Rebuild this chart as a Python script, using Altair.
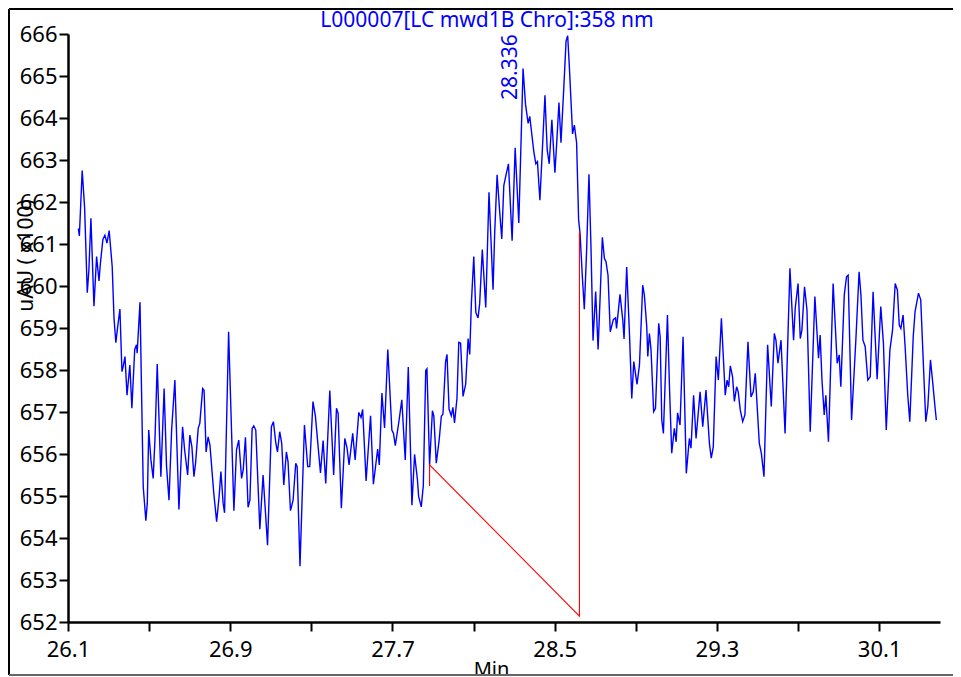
import altair as alt
import pandas as pd

# ---- data ----
times = [
    26.151, 26.156, 26.170, 26.182, 26.195, 26.203, 26.213, 26.228, 26.241, 26.253,
    26.259, 26.272, 26.282, 26.292, 26.303, 26.318, 26.327, 26.336, 26.345, 26.356,
    26.366, 26.372, 26.381, 26.391, 26.405, 26.415, 26.429, 26.438, 26.441, 26.455,
    26.471, 26.484, 26.491, 26.498, 26.509, 26.520, 26.529, 26.540, 26.558, 26.574,
    26.586, 26.598, 26.611, 26.627, 26.647, 26.665, 26.675, 26.690, 26.701, 26.711,
    26.721, 26.729, 26.742, 26.750, 26.764, 26.771, 26.781, 26.791, 26.800, 26.819,
    26.833, 26.845, 26.854, 26.865, 26.872, 26.892, 26.918, 26.931, 26.942, 26.956,
    26.964, 26.975, 26.988, 26.997, 27.008, 27.016, 27.026, 27.046, 27.062, 27.084,
    27.103, 27.113, 27.125, 27.133, 27.144, 27.154, 27.164, 27.177, 27.185, 27.197,
    27.210, 27.223, 27.230, 27.244, 27.266, 27.282, 27.292, 27.308, 27.320, 27.345,
    27.358, 27.371, 27.391, 27.410, 27.424, 27.432, 27.448, 27.465, 27.476, 27.486,
    27.504, 27.516, 27.534, 27.545, 27.553, 27.570, 27.592, 27.606, 27.627, 27.635,
    27.648, 27.661, 27.677, 27.697, 27.705, 27.714, 27.732, 27.746, 27.763, 27.778,
    27.796, 27.809, 27.823, 27.829, 27.842, 27.852, 27.864, 27.870, 27.883, 27.897,
    27.904, 27.916, 27.930, 27.941, 27.949, 27.962, 27.969, 27.979, 27.990, 27.998,
    28.006, 28.018, 28.027, 28.036, 28.048, 28.061, 28.073, 28.081, 28.089, 28.101,
    28.111, 28.122, 28.130, 28.143, 28.160, 28.176, 28.196, 28.204, 28.216, 28.229,
    28.239, 28.249, 28.259, 28.272, 28.290, 28.305, 28.323, 28.344, 28.356, 28.369,
    28.377, 28.386, 28.397, 28.407, 28.415, 28.427, 28.440, 28.452, 28.463, 28.473,
    28.486, 28.501, 28.509, 28.521, 28.531, 28.546, 28.556, 28.564, 28.572, 28.582,
    28.588, 28.597, 28.608, 28.618, 28.625, 28.636, 28.646, 28.657, 28.669, 28.679,
    28.689, 28.702, 28.714, 28.724, 28.735, 28.745, 28.753, 28.763, 28.774, 28.789,
    28.800, 28.805, 28.822, 28.836, 28.842, 28.855, 28.869, 28.880, 28.890, 28.906,
    28.918, 28.934, 28.942, 28.954, 28.959, 28.967, 28.975, 28.988, 28.997, 29.013,
    29.020, 29.028, 29.036, 29.056, 29.066, 29.077, 29.090, 29.099, 29.106, 29.118,
    29.133, 29.149, 29.164, 29.172, 29.185, 29.197, 29.217, 29.230, 29.246, 29.263,
    29.272, 29.282, 29.296, 29.307, 29.322, 29.341, 29.350, 29.358, 29.366, 29.377,
    29.386, 29.397, 29.405, 29.415, 29.427, 29.438, 29.453, 29.468, 29.479, 29.489,
    29.509, 29.519, 29.532, 29.550, 29.568, 29.583, 29.591, 29.601, 29.616, 29.636,
    29.660, 29.678, 29.686, 29.700, 29.711, 29.719, 29.732, 29.744, 29.760, 29.783,
    29.801, 29.809, 29.818, 29.829, 29.837, 29.850, 29.873, 29.893, 29.903, 29.911,
    29.928, 29.939, 29.947, 29.964, 29.985, 30.001, 30.010, 30.020, 30.031, 30.044,
    30.056, 30.070, 30.090, 30.108, 30.121, 30.135, 30.153, 30.166, 30.179, 30.190,
    30.199, 30.207, 30.218, 30.228, 30.241, 30.251, 30.268, 30.277, 30.294, 30.305,
    30.322, 30.330, 30.340, 30.353, 30.363, 30.376, 30.382,
]

values = [
    661.37, 661.19, 662.75, 661.86, 659.84, 660.38, 661.61, 659.52, 660.70, 660.12,
    660.50, 661.11, 661.21, 661.02, 661.32, 660.46, 659.23, 658.65, 659.03, 659.45,
    657.96, 658.08, 658.32, 657.40, 658.12, 657.09, 658.49, 658.60, 658.40, 659.61,
    655.22, 654.41, 654.83, 656.57, 655.86, 655.42, 656.37, 658.14, 655.46, 657.56,
    655.70, 654.90, 656.57, 657.76, 654.68, 656.65, 656.10, 655.50, 656.45, 656.17,
    655.46, 655.78, 656.61, 656.73, 657.56, 657.52, 656.05, 656.41, 656.21, 655.06,
    654.39, 654.98, 655.58, 654.83, 654.60, 658.91, 654.65, 656.10, 656.33, 655.42,
    655.62, 656.40, 654.73, 654.90, 656.61, 656.67, 656.57, 654.21, 655.50, 653.83,
    656.65, 656.77, 656.25, 656.05, 656.53, 656.25, 655.26, 656.05, 655.82, 654.65,
    654.90, 655.78, 655.70, 653.33, 656.69, 655.70, 655.70, 657.25, 656.90, 655.55,
    656.32, 655.30, 657.51, 655.50, 657.09, 656.97, 654.71, 656.37, 656.14, 655.74,
    656.49, 655.86, 656.99, 656.87, 657.06, 655.36, 656.91, 655.28, 656.12, 655.74,
    657.45, 656.62, 658.49, 656.57, 656.49, 656.20, 656.78, 657.29, 655.86, 658.07,
    654.78, 655.99, 655.40, 654.99, 654.74, 655.24, 657.99, 658.03, 655.74, 657.03,
    656.90, 655.78, 656.32, 656.90, 656.95, 658.20, 658.37, 657.07, 656.91, 657.11,
    656.74, 657.32, 658.66, 658.64, 657.37, 657.66, 658.75, 658.37, 659.58, 660.70,
    659.37, 659.24, 659.58, 660.87, 659.49, 662.23, 659.91, 661.25, 662.65, 661.75,
    661.12, 662.39, 662.62, 662.91, 661.08, 663.29, 661.50, 665.18, 664.33, 663.87,
    664.04, 663.66, 663.20, 662.91, 662.96, 662.04, 663.33, 664.54, 663.24, 662.91,
    663.96, 662.70, 663.33, 664.37, 663.41, 664.83, 665.83, 665.96, 665.25, 664.25,
    663.62, 663.83, 663.41, 661.58, 661.25, 660.25, 659.45, 660.79, 662.66, 660.91,
    658.70, 659.87, 658.49, 659.74, 661.16, 660.66, 660.58, 660.25, 658.91, 659.20,
    659.24, 658.99, 659.80, 659.18, 658.74, 660.45, 658.83, 657.32, 658.20, 657.66,
    658.12, 660.02, 659.79, 659.03, 658.32, 658.87, 658.48, 657.01, 657.09, 659.11,
    658.79, 656.81, 656.49, 659.31, 657.60, 656.02, 656.61, 656.29, 656.98, 656.69,
    658.79, 655.54, 656.37, 656.14, 657.40, 656.37, 657.48, 656.65, 657.52, 656.25,
    655.90, 656.17, 658.32, 657.76, 659.23, 657.40, 657.76, 657.60, 658.10, 657.84,
    657.25, 657.60, 657.48, 657.05, 656.77, 656.93, 658.67, 657.36, 657.48, 657.92,
    656.25, 656.02, 655.46, 658.60, 657.13, 658.87, 658.71, 658.16, 658.71, 656.49,
    660.42, 658.71, 659.47, 660.06, 658.75, 658.95, 659.98, 659.43, 656.53, 659.75,
    658.28, 658.83, 657.76, 656.93, 657.40, 656.29, 660.06, 658.16, 658.36, 657.60,
    659.79, 660.22, 660.26, 656.81, 658.71, 660.34, 659.79, 658.71, 658.56, 657.76,
    657.84, 659.86, 657.78, 659.51, 658.64, 656.57, 658.48, 658.95, 660.06, 659.90,
    659.07, 658.99, 659.31, 658.56, 657.40, 656.77, 658.79, 659.39, 659.83, 659.67,
    657.68, 656.77, 657.13, 658.24, 657.76, 657.09, 656.81,
]

# integration baseline (red): start tick, start, end drop, end top
baseline_t = [27.883, 27.883, 28.622, 28.622]
baseline_v = [655.24, 655.74, 652.14, 661.29]

peak_label = ["28.336"]
peak_label_t = [28.336]
peak_label_v = [664.43]

title_text = ["L000007[LC mwd1B Chro]:358 nm"]
x_title = "Min"
y_title = "uAU ( x100)"
x_ticks = [26.1, 26.5, 26.9, 27.3, 27.7, 28.1, 28.5, 28.9, 29.3, 29.7, 30.1]
y_ticks = list(range(652, 667))

FONT = "Noto Sans"
BLUE = "#0000FF"
RED = "#FF0000"

df = pd.DataFrame({"t": times, "v": values})
df_base = pd.DataFrame({"t": baseline_t, "v": baseline_v, "i": list(range(len(baseline_t)))})
df_lab = pd.DataFrame({"t": peak_label_t, "v": peak_label_v, "s": peak_label})
one = pd.DataFrame({"k": [0]})

xscale = alt.Scale(domain=[26.1, 30.4], nice=False, zero=False)
yscale = alt.Scale(domain=[652, 666], nice=False, zero=False)

x_axis = alt.Axis(
    values=x_ticks,
    labelExpr="round((datum.value - 26.1) / 0.4) % 2 == 0 ? format(datum.value, '.1f') : ''",
    labelFlush=False, labelOverlap=False,
    title=x_title,
    titleX=423, titleY=53, titleAlign="center", titleBaseline="alphabetic",
    titleFont=FONT, titleFontSize=20, titleFontWeight="normal", titleColor="black",
    labelPadding=8, tickSize=9,
)
y_axis = alt.Axis(
    values=y_ticks, format="d",
    labelFlush=False, labelOverlap=False,
    title=y_title,
    titleX=-42, titleY=221, titleAngle=270, titleAlign="center", titleBaseline="middle",
    titleFont=FONT, titleFontSize=21, titleFontWeight="normal", titleColor="black",
    labelPadding=2, tickSize=9,
)

# outer frame (left, top and bottom edges; the right edge lies beyond the picture)
frame_left = alt.Chart(one).mark_rule(color="black", strokeWidth=2).encode(
    x=alt.value(-59), y=alt.value(-25), y2=alt.value(641)
)
frame_top = alt.Chart(one).mark_rule(color="black", strokeWidth=2).encode(
    x=alt.value(-59), x2=alt.value(885), y=alt.value(-25)
)
frame_bottom = alt.Chart(one).mark_rule(color="#666666", strokeWidth=2).encode(
    x=alt.value(-59), x2=alt.value(885), y=alt.value(641)
)

title = alt.Chart(one).mark_text(
    text=title_text[0], color=BLUE, font=FONT, fontSize=21,
    align="center", baseline="alphabetic",
).encode(x=alt.value(419), y=alt.value(-7))

line = alt.Chart(df).mark_line(color=BLUE, strokeWidth=1.4).encode(
    x=alt.X("t:Q", scale=xscale, axis=x_axis),
    y=alt.Y("v:Q", scale=yscale, axis=y_axis),
)

base = alt.Chart(df_base).mark_line(color=RED, strokeWidth=1.1).encode(
    x=alt.X("t:Q", scale=xscale),
    y=alt.Y("v:Q", scale=yscale),
    order=alt.Order("i:Q"),
)

label = alt.Chart(df_lab).mark_text(
    angle=270, align="left", baseline="bottom", color=BLUE, font=FONT, fontSize=21
).encode(
    x=alt.X("t:Q", scale=xscale),
    y=alt.Y("v:Q", scale=yscale),
    text="s:N",
)

chart = alt.layer(frame_left, frame_top, frame_bottom, line, base, label, title).properties(
    width=872,
    height=588,
    autosize=alt.AutoSizeParams(type="none"),
    padding={"left": 60, "top": 26, "right": 13, "bottom": 58},
).configure_view(
    strokeOpacity=0
).configure_axis(
    grid=False,
    domainColor="black", domainWidth=2.5,
    tickColor="black", tickWidth=2,
    labelFont=FONT, labelFontSize=22, labelColor="black",
)

chart.save("out.html", embed_options={"renderer": "svg", "actions": False})
